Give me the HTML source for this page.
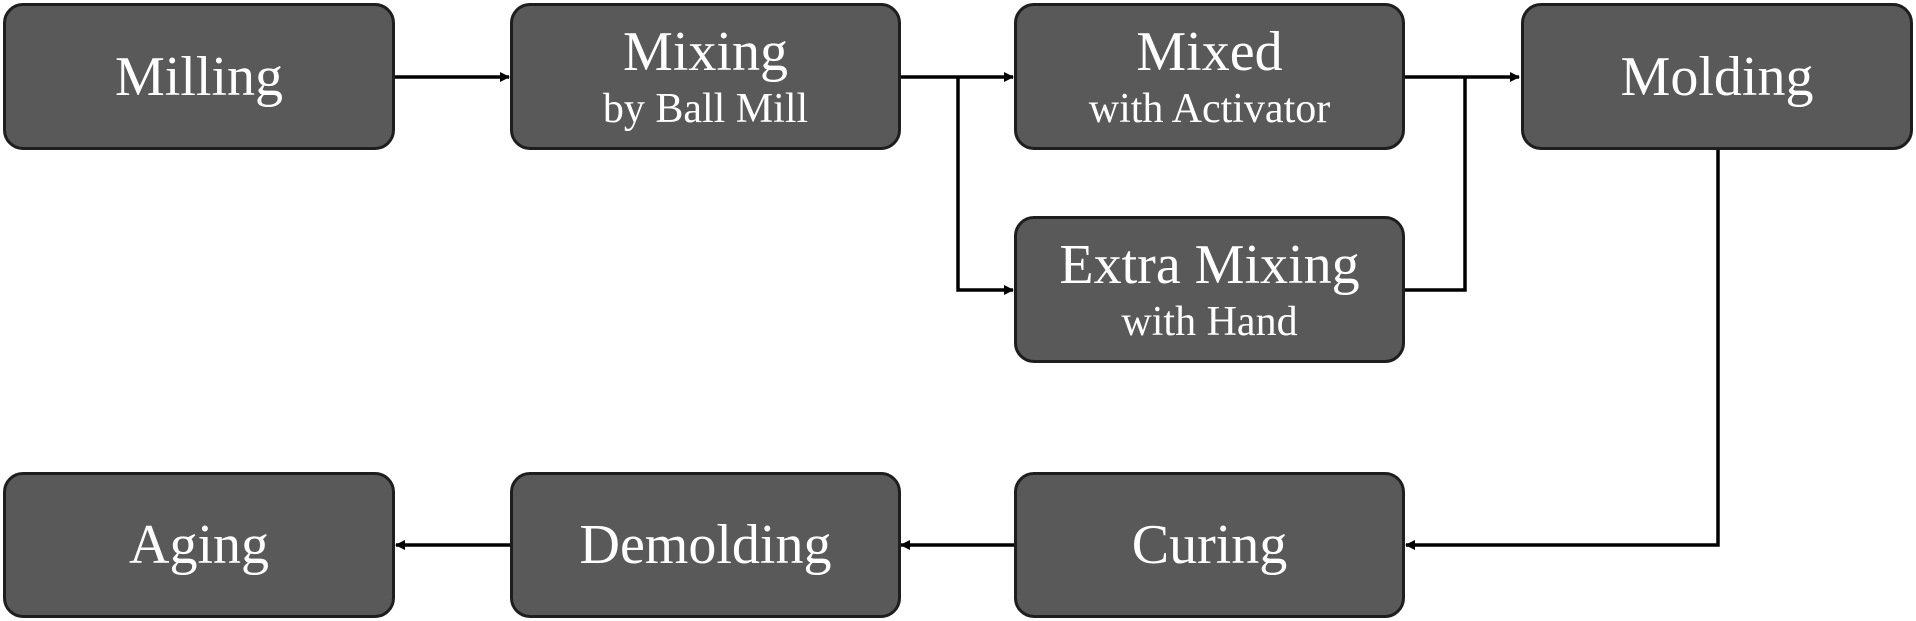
<!DOCTYPE html>
<html><head><meta charset="utf-8"><style>
body{margin:0;background:#fff;width:1916px;height:621px;overflow:hidden;position:relative;font-family:"Liberation Serif",serif;}
.b{position:absolute;box-sizing:border-box;background:#595959;border:3px solid #1e1e1e;border-radius:20px;color:#fff;text-align:center;display:flex;flex-direction:column;justify-content:center;align-items:center;line-height:1;}
.m{font-size:56px;}
.s{font-size:42px;margin-top:8px;}
svg{position:absolute;left:0;top:0;}
</style></head><body>
<svg width="1916" height="621">
<defs><marker id="a" markerWidth="10" markerHeight="10" refX="9" refY="5" orient="auto" markerUnits="userSpaceOnUse"><path d="M0,0 L10,5 L0,10 z" fill="#000"/></marker></defs>
<g stroke="#000" stroke-width="3.5" fill="none">
<path d="M394 77 H509" marker-end="url(#a)"/>
<path d="M899 77 H1013" marker-end="url(#a)"/>
<path d="M958 77 V290 H1013" marker-end="url(#a)"/>
<path d="M1404 77 H1519" marker-end="url(#a)"/>
<path d="M1404 290 H1465 V77"/>
<path d="M1718 149 V545 H1406" marker-end="url(#a)"/>
<path d="M1015 545 H901" marker-end="url(#a)"/>
<path d="M511 545 H396" marker-end="url(#a)"/>
</g></svg>
<div class="b" style="left:3px;top:3px;width:392px;height:147px"><div class="m">Milling</div></div>
<div class="b" style="left:510px;top:3px;width:391px;height:147px"><div class="m">Mixing</div><div class="s">by Ball Mill</div></div>
<div class="b" style="left:1014px;top:3px;width:391px;height:147px"><div class="m">Mixed</div><div class="s">with Activator</div></div>
<div class="b" style="left:1521px;top:3px;width:392px;height:147px"><div class="m">Molding</div></div>
<div class="b" style="left:1014px;top:216px;width:391px;height:147px"><div class="m">Extra Mixing</div><div class="s">with Hand</div></div>
<div class="b" style="left:3px;top:472px;width:392px;height:146px"><div class="m">Aging</div></div>
<div class="b" style="left:510px;top:472px;width:391px;height:146px"><div class="m">Demolding</div></div>
<div class="b" style="left:1014px;top:472px;width:391px;height:146px"><div class="m">Curing</div></div>
</body></html>
